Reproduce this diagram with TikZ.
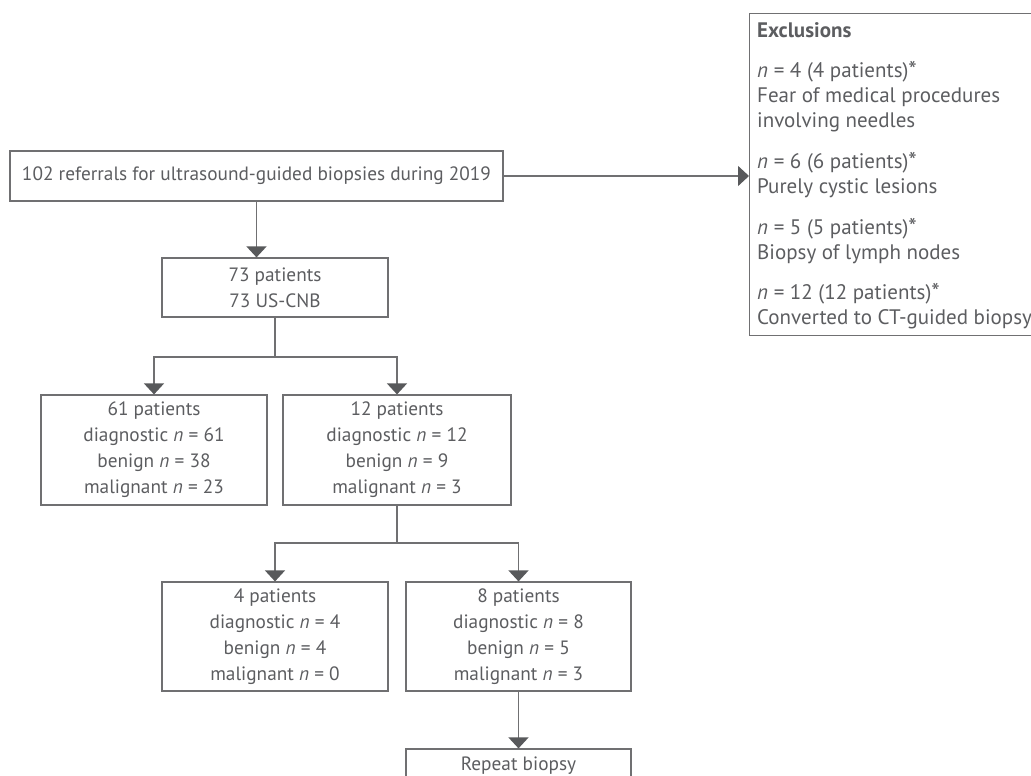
\documentclass[tikz,border=0pt]{standalone}
\usepackage{fontspec}
\setmainfont{PT Sans}
\usetikzlibrary{arrows.meta}
\definecolor{ln}{RGB}{112,112,114}
\definecolor{tx}{RGB}{92,93,96}
\definecolor{ah}{RGB}{88,89,91}
\newcommand{\myast}{{\fontsize{24}{24}\selectfont\raisebox{-1pt}{*}}}
\begin{document}
\begin{tikzpicture}[x=1pt,y=-1pt,
  font=\fontsize{19.3}{26}\selectfont,
  box/.style={draw=ln, line width=1.2pt, text=tx, align=center, inner sep=0pt},
  arr/.style={draw=ln, line width=1.4pt, -{Triangle[width=20pt,length=11pt,color=ah]}},
  lnk/.style={draw=ln, line width=1.4pt}]
\useasboundingbox (0,0) rectangle (1031,776);
\clip (0,0) rectangle (1031,776);
\node[box, minimum width=493pt, minimum height=50pt] (top) at (256.5,176) {102 referrals for ultrasound-guided biopsies during 2019};
\node[box, minimum width=226pt, minimum height=59pt] (p73) at (275,287.5) {73 patients\\73 US-CNB};
\node[box, minimum width=226pt, minimum height=110pt] (p61) at (154,450) {61 patients\\diagnostic \textit{n} = 61\\benign \textit{n} = 38\\malignant \textit{n} = 23};
\node[box, minimum width=228pt, minimum height=110pt] (p12) at (397,450) {12 patients\\diagnostic \textit{n} = 12\\benign \textit{n} = 9\\malignant \textit{n} = 3};
\node[box, minimum width=226pt, minimum height=109pt] (p4) at (275,636.5) {4 patients\\diagnostic \textit{n} = 4\\benign \textit{n} = 4\\malignant \textit{n} = 0};
\node[box, minimum width=225pt, minimum height=109pt] (p8) at (518.5,636.5) {8 patients\\diagnostic \textit{n} = 8\\benign \textit{n} = 5\\malignant \textit{n} = 3};
\node[box, minimum width=225pt, minimum height=34pt] (rep) at (518.5,766) {Repeat biopsy};
\node[box, anchor=north west, minimum width=420pt, minimum height=322pt] (exc) at (749,13) {};
\node[anchor=north west, align=left, text=tx, inner sep=0pt, font=\fontsize{21}{25}\selectfont] (exct) at (757,22) {\textbf{Exclusions}\\[15pt]
\textit{n} = 4 (4 patients)\myast\\Fear of medical procedures\\involving needles\\[16pt]
\textit{n} = 6 (6 patients)\myast\\Purely cystic lesions\\[16pt]
\textit{n} = 5 (5 patients)\myast\\Biopsy of lymph nodes\\[15pt]
\textit{n} = 12 (12 patients)\myast\\Converted to CT-guided biopsy};
\coordinate (b1) at (275,357);
\coordinate (b2) at (397,543);
\draw[arr] (top.east) -- (top.east -| exc.west);
\draw[arr] (top.south) -- (top.south |- p73.north);
\draw[lnk] (p73.south) -- (b1);
\draw[arr] (b1) -| (p61.north);
\draw[arr] (b1) -| (p12.north);
\draw[lnk] (p12.south) -- (b2);
\draw[arr] (b2) -| (p4.north);
\draw[arr] (b2) -| (p8.north);
\draw[arr] (p8.south) -- (rep.north);
\end{tikzpicture}
\end{document}
